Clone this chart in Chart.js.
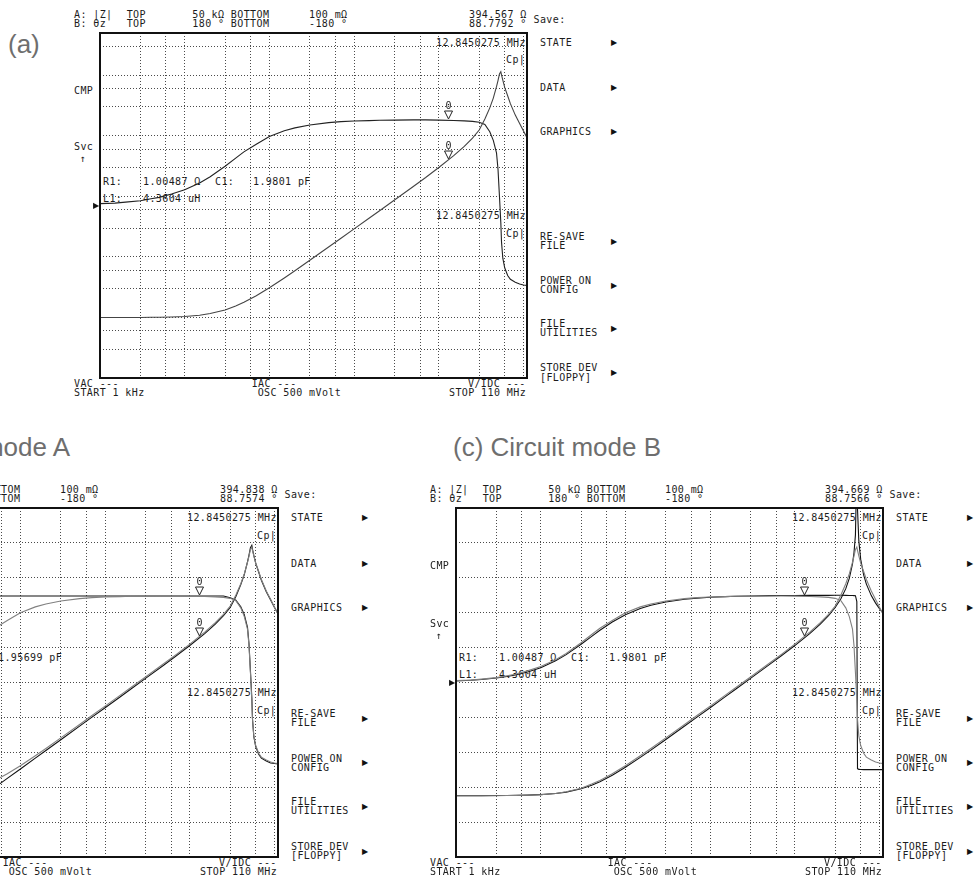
<!DOCTYPE html>
<html><head><meta charset="utf-8">
<script src="https://cdn.jsdelivr.net/npm/chart.js@4.4.0/dist/chart.umd.min.js"></script>
<style>
html,body{margin:0;padding:0;background:#fff;}
body{width:976px;height:888px;overflow:hidden;position:relative;}
.t{position:absolute;font-family:"DejaVu Sans Mono",monospace;font-size:10px;line-height:8px;color:#1c1c1c;white-space:pre;letter-spacing:0.4px;}
.ar{position:absolute;font-family:"DejaVu Sans",sans-serif;font-size:8px;line-height:8px;color:#111;white-space:pre;}
.title{position:absolute;font-family:"Liberation Sans",Arial,sans-serif;font-size:26px;line-height:30px;color:#6e6e6e;white-space:nowrap;}
canvas{position:absolute;}
</style></head><body>
<script>
// ---------------- data ----------------
const FREQ_HZ = [1e3,1.5e3,2e3,3e3,4e3,5e3,7e3,1e4,1.5e4,2e4,3e4,4e4,5e4,7e4,1e5,1.5e5,2e5,3e5,5e5,7e5,1e6,1.5e6,2e6,3e6,5e6,7e6,1e7,1.5e7,2e7,2.5e7,3e7,3.5e7,4e7,4.4e7,4.8e7,5e7,5.2e7,5.4e7,5.5e7,5.7e7,6e7,6.5e7,7e7,8e7,9e7,1e8,1.1e8];
// measured |Z| (ohm) and phase (deg)
const MEAS_Z = [1.00,1.00,1.00,1.00,1.01,1.01,1.02,1.04,1.09,1.16,1.33,1.55,1.78,2.28,3.1,4.5,5.9,8.8,14.6,20.4,29.1,43.6,58,87,146,205,300,470,670,920,1250,1900,2900,4200,6500,8200,10500,11500,10200,8300,6300,4600,3400,2200,1600,1200,930];
const MEAS_P = [2,2.5,3.5,5,7,8.5,12,16.5,23.5,30,41,49.5,56,64,72,78,81,84,86.5,87.5,88.2,88.6,88.9,89.1,89.3,89.3,89.1,88.7,88.3,87.8,86.8,84.5,77,68,55,38,10,-18,-38,-55,-65,-73,-77,-80,-82,-83,-83.5];
// equivalent circuit mode A simulation
const SIMA_Z = [0.0274,0.0411,0.0548,0.0822,0.110,0.137,0.192,0.274,0.411,0.548,0.822,1.10,1.37,1.92,2.74,4.11,5.48,8.22,13.7,19.2,27.4,41.1,54.8,82.5,138,195,284,445,635,870,1190,1800,2800,4100,6600,8500,11200,12300,10600,8400,6300,4500,3300,2150,1580,1190,940];
const SIMA_P = [89.3,89.3,89.3,89.3,89.3,89.3,89.3,89.3,89.3,89.3,89.3,89.3,89.3,89.3,89.3,89.3,89.3,89.3,89.3,89.3,89.3,89.3,89.3,89.3,89.3,89.3,89.3,89.3,89.3,89.2,87.5,85,78,70,57,40,12,-16,-38,-56,-66,-74,-78,-81,-83,-83.5,-84];
// equivalent circuit mode B simulation
const SIMB_Z = [1.005,1.006,1.007,1.008,1.011,1.014,1.023,1.042,1.086,1.145,1.298,1.487,1.699,2.165,2.918,4.231,5.570,8.280,13.74,19.20,27.41,41.12,54.82,82.5,138.2,195,283.6,445,634.5,870.5,1186,1647,2411,3545,6131,9276,18220,250000,48150,14500,7230,4044,2860,1855,1400,1137,964];
const SIMB_P = [1.57,2.35,3.14,4.70,6.25,7.80,10.87,15.32,22.34,28.73,39.43,47.63,53.88,62.47,69.95,76.32,79.66,83.06,85.82,87.01,87.91,88.61,88.95,89.30,89.58,89.70,89.79,89.86,89.90,89.92,89.93,89.93,89.89,89.80,89.70,89.60,89.50,83.5,-88.8,-89.6,-89.8,-89.9,-89.9,-89.9,-89.9,-89.9,-89.9];
// grid / tick values
const X_GRID = [3e3,6e3,1e4,3e4,6e4,1e5,3e5,6e5,1e6,3e6,6e6,1e7,3e7,6e7,1e8];
const Z_GRID = [0.3,0.6,1,3,6,10,30,60,100,300,600,1000,3000,6000,10000,30000];
const P_GRID = [-144,-108,-72,-36,0,36,72,108,144];
const X_RANGE = [1e3, 1.1e8];
const Z_RANGE = [0.1, 50000];
const P_RANGE = [-180, 180];
// markers
const MARKER_F = 12845027.5;
const MARKER_Z = [394.567, 394.838, 394.669];
const MARKER_P = [88.7792, 88.7574, 88.7566];
const C1_TEXT = ['1.9801 pF', '1.95699 pF', '1.9801 pF'];

// ---------------- helpers ----------------
function T(x, y, s, align, cls) {
  const d = document.createElement('div');
  d.className = cls || 't';
  d.textContent = s;
  document.body.appendChild(d);
  const w = d.offsetWidth, h = d.offsetHeight;
  d.style.left = (align === 'r' ? x - w : align === 'c' ? x - w / 2 : x) + 'px';
  d.style.top = (y - h / 2) + 'px';
  return d;
}

const PANEL_OF = new Map();

const deco = {
  id: 'deco',
  afterDatasetsDraw(chart) {
    const p = PANEL_OF.get(chart.canvas);
    if (!p) return;
    const {ctx, chartArea: a, scales} = chart;
    ctx.save();
    const px = scales.x.getPixelForValue(MARKER_F);
    const marks = [[scales.yP, MARKER_P[p.idx]], [scales.yZ, MARKER_Z[p.idx]]];
    marks.forEach(([sc, v], k) => {
      const py = Math.round(sc.getPixelForValue(v));
      const cx = Math.round(px) + 0.5;
      ctx.beginPath();
      ctx.moveTo(cx, py - 1);
      ctx.lineTo(cx - 4, py - 9);
      ctx.lineTo(cx + 4, py - 9);
      ctx.closePath();
      ctx.strokeStyle = '#222';
      ctx.lineWidth = 1;
      ctx.stroke();
      const lab = p.markLabels[k];
      lab.style.left = (p.cx + cx - lab.offsetWidth / 2) + 'px';
      lab.style.top = (p.cy + py - 14 - lab.offsetHeight / 2) + 'px';
    });
    const zy = scales.yP.getPixelForValue(0);
    p.zeroArrow.style.top = (p.cy + zy - p.zeroArrow.offsetHeight / 2) + 'px';
    ctx.lineWidth = 2;
    ctx.strokeStyle = '#111';
    ctx.strokeRect(a.left, a.top, a.right - a.left, a.bottom - a.top);
    ctx.restore();
  }
};

const PANELS = [
  {idx: 0, left: 100, top: 33, w: 427, h: 345, grid: 'Z',
   sets: [[MEAS_Z, 'yZ', '#444'], [MEAS_P, 'yP', '#222']]},
  {idx: 1, left: -149, top: 508, w: 427, h: 349, grid: 'P',
   sets: [[MEAS_Z, 'yZ', '#808080'], [MEAS_P, 'yP', '#808080'], [SIMA_Z, 'yZ', '#111'], [SIMA_P, 'yP', '#111']]},
  {idx: 2, left: 456, top: 508, w: 427, h: 349, grid: 'P',
   sets: [[MEAS_Z, 'yZ', '#808080'], [MEAS_P, 'yP', '#808080'], [SIMB_Z, 'yZ', '#111'], [SIMB_P, 'yP', '#111']]}
];

const GRID_COLOR = '#4a4a4a';
const PAD = 3;

function buildPanel(p) {
  const L = p.left, Tp = p.top, W = p.w, H = p.h, s = H / 345;
  // header
  const zs = MARKER_Z[p.idx].toFixed(3) + ' Ω';
  const ps = MARKER_P[p.idx].toFixed(4) + ' °';
  T(L - 26, Tp - 18.5, 'A: |Z|'); T(L + 26.7, Tp - 18.5, 'TOP'); T(L + 92.3, Tp - 18.5, '50 kΩ BOTTOM'); T(L + 209, Tp - 18.5, '100 mΩ');
  T(L + W, Tp - 18.5, zs, 'r');
  T(L - 26, Tp - 9.5, 'B: θz'); T(L + 26.7, Tp - 9.5, 'TOP'); T(L + 92.3, Tp - 9.5, '180 ° BOTTOM'); T(L + 209, Tp - 9.5, '-180 °');
  T(L + W, Tp - 9.5, ps, 'r');
  T(L + W + 6.5, Tp - 13, 'Save:');
  // softkey menu
  const mx = L + W + 13, ax = L + W + 84;
  [[10, 'STATE'], [55, 'DATA'], [99, 'GRAPHICS'], [204, 'RE-SAVE'], [213, 'FILE'], [248, 'POWER ON'], [257, 'CONFIG'],
   [291, 'FILE'], [300, 'UTILITIES'], [335, 'STORE DEV'], [344.5, '[FLOPPY]']].forEach(([dy, str]) => T(mx, Tp + dy * s, str));
  [10, 55, 99, 208.5, 252.5, 295.5, 340].forEach(dy => T(ax, Tp + dy * s, '▶', 'l', 'ar'));
  // left labels
  T(L - 26, Tp + 57.7 * s, 'CMP'); T(L - 26, Tp + 114.3 * s, 'Svc'); T(L - 17.5, Tp + 126.3 * s, '↑', 'c');
  // in-plot text
  T(L + W - 1, Tp + 9.5, '12.8450275 MHz', 'r'); T(L + W - 2, Tp + 27.3 * s, 'Cp|', 'r');
  T(L + W - 1, Tp + 183 * s, '12.8450275 MHz', 'r'); T(L + W - 2, Tp + 201 * s, 'Cp|', 'r');
  if (p.idx !== 1) {
    T(L + 3, Tp + 148.7 * s, 'R1:'); T(L + 43, Tp + 148.7 * s, '1.00487 Ω'); T(L + 115, Tp + 148.7 * s, 'C1:');
    T(L + 3, Tp + 165.5 * s, 'L1:'); T(L + 43, Tp + 165.5 * s, '4.3604 uH');
  }
  T(L + 211, Tp + 148.7 * s, C1_TEXT[p.idx], 'r');
  // bottom
  T(L - 26, Tp + H + 6, 'VAC ---'); T(L - 26, Tp + H + 15, 'START 1 kHz');
  T(L + 151.7, Tp + H + 6, 'IAC ---'); T(L + 157.7, Tp + H + 15, 'OSC 500 mVolt');
  T(L + W - 1, Tp + H + 6, 'V/IDC ---', 'r'); T(L + W - 1, Tp + H + 15, 'STOP 110 MHz', 'r');

  // canvas
  const cv = document.createElement('canvas');
  cv.width = W + 2 * PAD; cv.height = H + 2 * PAD;
  cv.style.width = cv.width + 'px'; cv.style.height = cv.height + 'px';
  cv.style.left = (L - PAD) + 'px'; cv.style.top = (Tp - PAD) + 'px';
  document.body.appendChild(cv);
  p.cx = L - PAD; p.cy = Tp - PAD;
  p.markLabels = [T(0, -50, '0'), T(0, -50, '0')];
  p.zeroArrow = T(L - 7, -50, '▶', 'l', 'ar');
  PANEL_OF.set(cv, p);

  const gridOpts = on => ({display: on, color: GRID_COLOR, lineWidth: 1, drawTicks: false, drawOnChartArea: true});
  new Chart(cv, {
    type: 'line',
    data: {
      datasets: p.sets.map(([arr, ax, col]) => ({
        data: FREQ_HZ.map((f, i) => ({x: f, y: arr[i]})),
        yAxisID: ax, borderColor: col, borderWidth: 1.1, pointRadius: 0, tension: 0, fill: false, clip: 0
      }))
    },
    options: {
      responsive: false, animation: false, devicePixelRatio: 1,
      layout: {padding: PAD},
      plugins: {legend: {display: false}, tooltip: {enabled: false}, title: {display: false}},
      scales: {
        x: {type: 'logarithmic', min: X_RANGE[0], max: X_RANGE[1], ticks: {display: false},
            grid: gridOpts(true), border: {display: false, dash: [1, 2]},
            afterBuildTicks: sc => { sc.ticks = X_GRID.map(v => ({value: v})); }},
        yZ: {type: 'logarithmic', position: 'left', display: p.grid === 'Z', min: Z_RANGE[0], max: Z_RANGE[1],
             ticks: {display: false}, grid: gridOpts(p.grid === 'Z'), border: {display: false, dash: [1, 2]},
             afterBuildTicks: sc => { sc.ticks = Z_GRID.map(v => ({value: v})); }},
        yP: {type: 'linear', position: 'left', display: p.grid === 'P', min: P_RANGE[0], max: P_RANGE[1],
             ticks: {display: false}, grid: gridOpts(p.grid === 'P'), border: {display: false, dash: [1, 2]},
             afterBuildTicks: sc => { sc.ticks = P_GRID.map(v => ({value: v})); }}
      }
    },
    plugins: [deco]
  });
}

// titles
T(8, 44, '(a)', 'l', 'title');
T(70, 447, '(b) Circuit mode A', 'r', 'title');
T(453, 447, '(c) Circuit mode B', 'l', 'title');

PANELS.forEach(buildPanel);
</script>
</body></html>
